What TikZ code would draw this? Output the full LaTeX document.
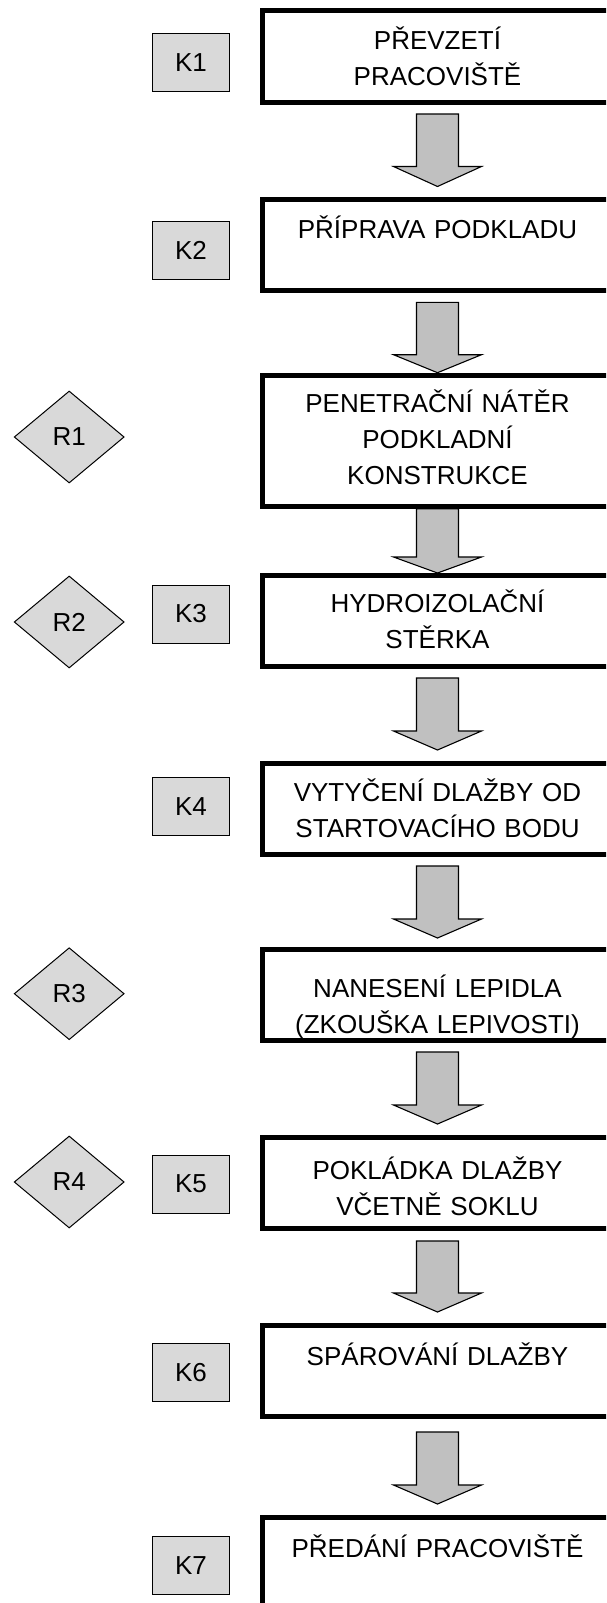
\documentclass[tikz,border=0pt]{standalone}
\usepackage{fontspec}
\setmainfont{Liberation Sans}
\usetikzlibrary{shapes.geometric,calc}

\definecolor{tagfill}{HTML}{D9D9D9}
\definecolor{arrowfill}{HTML}{C0C0C0}

% Block arrow from the top point #1 down to the tip #2, head length #3 (pt)
\newcommand\blockarrow[3]{%
  \draw[flowarrow] let \p1=(#1), \p2=(#2) in
    (\x2-21pt,\y1) -- (\x2+21pt,\y1) -- (\x2+21pt,\y2+#3pt) --
    (\x2+44pt,\y2+#3pt) -- (\x2,\y2) -- (\x2-44pt,\y2+#3pt) --
    (\x2-21pt,\y2+#3pt) -- cycle;}

\begin{document}
\begin{tikzpicture}[x=1pt,y=-1pt,
  stepbox/.style={draw=black, line width=5pt, fill=white,
    minimum width=350pt, minimum height=91pt, inner sep=0pt},
  steptext/.style={anchor=base, align=center, text width=340pt, inner sep=0pt,
    font=\fontsize{26}{36}\selectfont},
  tag/.style={draw=black, line width=1pt, fill=tagfill,
    minimum width=77pt, minimum height=58pt, inner sep=0pt,
    font=\fontsize{26}{30}\selectfont},
  risk/.style={diamond, draw=black, line width=1pt, fill=tagfill,
    minimum width=110pt, minimum height=92pt, inner sep=0pt,
    font=\fontsize{26}{30}\selectfont},
  flowarrow/.style={draw=black, line width=1.1pt, fill=arrowfill, line join=miter}]

\path[use as bounding box] (0,0) rectangle (606,1603);
\clip (0,0) rectangle (606,1603);

% main process steps
\node[stepbox] (b1) at (437.5,56.5) {};
\node[stepbox] (b2) at (437.5,245.3) {};
\node[stepbox, minimum height=131pt] (b3) at (437.5,440.7) {};
\node[stepbox] (b4) at (437.5,621) {};
\node[stepbox] (b5) at (437.5,809) {};
\node[stepbox] (b6) at (437.5,995) {};
\node[stepbox] (b7) at (437.5,1183) {};
\node[stepbox] (b8) at (437.5,1371) {};
\node[stepbox] (b9) at (437.5,1563) {};

\node[steptext] (t1) at ($(b1.north)+(0,41)$) {PŘEVZETÍ\\PRACOVIŠTĚ};
\node[steptext] (t2) at ($(b2.north)+(0,41)$) {PŘÍPRAVA PODKLADU};
\node[steptext] (t3) at ($(b3.north)+(0,40)$) {PENETRAČNÍ NÁTĚR\\PODKLADNÍ\\KONSTRUKCE};
\node[steptext] (t4) at ($(b4.north)+(0,39)$) {HYDROIZOLAČNÍ\\STĚRKA};
\node[steptext] (t5) at ($(b5.north)+(0,40)$) {VYTYČENÍ DLAŽBY OD\\STARTOVACÍHO BODU};
\node[steptext] (t6) at ($(b6.north)+(0,50)$) {NANESENÍ LEPIDLA\\(ZKOUŠKA LEPIVOSTI)};
\node[steptext] (t7) at ($(b7.north)+(0,44)$) {POKLÁDKA DLAŽBY\\VČETNĚ SOKLU};
\node[steptext] (t8) at ($(b8.north)+(0,42)$) {SPÁROVÁNÍ DLAŽBY};
\node[steptext] (t9) at ($(b9.north)+(0,42)$) {PŘEDÁNÍ PRACOVIŠTĚ};

% control points
\node[tag] (k1) at (191,62.2) {K1};
\node[tag] (k2) at (191,250.7) {K2};
\node[tag] (k3) at (191,614) {K3};
\node[tag] (k4) at (191,806.3) {K4};
\node[tag] (k5) at (191,1184) {K5};
\node[tag] (k6) at (191,1372.2) {K6};
\node[tag] (k7) at (191,1565.3) {K7};

% risk points
\node[risk] (r1) at (69.2,437) {R1};
\node[risk] (r2) at (69.2,622) {R2};
\node[risk] (r3) at (69.2,993.7) {R3};
\node[risk] (r4) at (69.2,1182) {R4};

% arrow ends between consecutive steps
\coordinate (a1s) at ($(b1.south)+(0,9.5)$);  \coordinate (a1e) at ($(b2.north)+(0,-10.8)$);
\coordinate (a2s) at ($(b2.south)+(0,9)$);    \coordinate (a2e) at (b3.north);
\coordinate (a3s) at (b3.south);              \coordinate (a3e) at (b4.north);
\coordinate (a4s) at ($(b4.south)+(0,9)$);    \coordinate (a4e) at ($(b5.north)+(0,-11)$);
\coordinate (a5s) at ($(b5.south)+(0,9)$);    \coordinate (a5e) at ($(b6.north)+(0,-9)$);
\coordinate (a6s) at ($(b6.south)+(0,9)$);    \coordinate (a6e) at ($(b7.north)+(0,-11)$);
\coordinate (a7s) at ($(b7.south)+(0,10)$);   \coordinate (a7e) at ($(b8.north)+(0,-11)$);
\coordinate (a8s) at ($(b8.south)+(0,13)$);   \coordinate (a8e) at ($(b9.north)+(0,-11)$);

\blockarrow{a1s}{a1e}{20}
\blockarrow{a2s}{a2e}{18}
\blockarrow{a3s}{a3e}{16}
\blockarrow{a4s}{a4e}{19}
\blockarrow{a5s}{a5e}{19}
\blockarrow{a6s}{a6e}{19}
\blockarrow{a7s}{a7e}{19}
\blockarrow{a8s}{a8e}{19}

\end{tikzpicture}
\end{document}
